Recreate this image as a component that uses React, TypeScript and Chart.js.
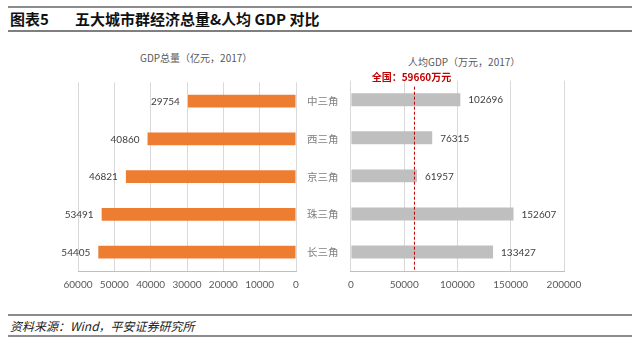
import React, { useEffect, useRef } from 'react';
import { Chart, registerables } from 'chart.js';

Chart.register(...registerables);

const categories = ['中三角', '西三角', '京三角', '珠三角', '长三角'];
const gdpTotal = [29754, 40860, 46821, 53491, 54405];
const gdpPerCapita = [102696, 76315, 61957, 152607, 133427];
const nationalAvg = 59660;
const nationalLabel = '全国：59660万元';
const leftTitle = 'GDP总量（亿元，2017）';
const rightTitle = '人均GDP（万元，2017）';
const leftMax = 60000;
const leftStep = 10000;
const rightMax = 200000;
const rightStep = 50000;

const FONT = 'Lato, "Noto Sans CJK SC", sans-serif';
const CJK = '"Noto Sans CJK SC", Lato, sans-serif';

const plainTick = (v: any) => String(v);

const valueLabels = {
  id: 'valueLabels',
  afterDatasetsDraw(chart: any, _args: any, opts: any) {
    const ctx = chart.ctx;
    const meta = chart.getDatasetMeta(0);
    const data = chart.data.datasets[0].data as number[];
    ctx.save();
    ctx.font = '10px ' + FONT;
    ctx.fillStyle = '#404040';
    ctx.textBaseline = 'middle';
    ctx.textAlign = opts.side === 'left' ? 'right' : 'left';
    meta.data.forEach((bar: any, i: number) => {
      const x = opts.side === 'left' ? bar.x - 8 : bar.x + 8;
      ctx.fillText(String(data[i]), x, bar.y + 0.5);
    });
    ctx.restore();
  },
};

const avgLine = {
  id: 'avgLine',
  afterDatasetsDraw(chart: any, _args: any, opts: any) {
    if (!opts || opts.value == null) return;
    const ctx = chart.ctx;
    const x = chart.scales.x.getPixelForValue(opts.value);
    const area = chart.chartArea;
    ctx.save();
    ctx.strokeStyle = '#C00000';
    ctx.lineWidth = 1;
    ctx.setLineDash([3, 2]);
    ctx.beginPath();
    ctx.moveTo(x, area.top + 6);
    ctx.lineTo(x, area.bottom);
    ctx.stroke();
    ctx.setLineDash([]);
    ctx.fillStyle = '#C00000';
    ctx.font = 'bold 10px ' + CJK;
    ctx.textAlign = 'center';
    ctx.textBaseline = 'middle';
    ctx.fillText(opts.label, x - 3, area.top - 3);
    ctx.restore();
  },
};

function LeftChart() {
  const ref = useRef<HTMLCanvasElement>(null);
  useEffect(() => {
    const chart = new Chart(ref.current!, {
      type: 'bar',
      data: {
        labels: categories,
        datasets: [
          {
            data: gdpTotal,
            backgroundColor: '#ED7D31',
            barPercentage: 0.34,
            categoryPercentage: 1,
          },
        ],
      },
      plugins: [valueLabels],
      options: {
        indexAxis: 'y',
        animation: false,
        responsive: false,
        maintainAspectRatio: false,
        layout: { padding: { left: 48, top: 15.7, right: 0, bottom: 0 } },
        plugins: {
          legend: { display: false },
          tooltip: { enabled: false },
          valueLabels: { side: 'left' },
        } as any,
        scales: {
          x: {
            reverse: true,
            min: 0,
            max: leftMax,
            ticks: {
              stepSize: leftStep,
              color: '#595959',
              font: { size: 10, family: FONT },
              padding: 8,
              maxRotation: 0,
              minRotation: 0,
              autoSkip: false,
              callback: plainTick,
            },
            grid: { color: '#D9D9D9', drawTicks: false },
            border: { color: '#BFBFBF' },
            afterFit: (s: any) => { s.height = 26; },
          },
          y: {
            position: 'right',
            grid: { display: false, drawTicks: false },
            border: { display: false },
            ticks: { color: '#808080', font: { size: 10.5, family: CJK }, padding: 11, crossAlign: 'near' },
            afterFit: (s: any) => { s.width = 54; },
          },
        },
      } as any,
    });
    return () => chart.destroy();
  }, []);
  return <canvas ref={ref} width={320} height={232} style={{ position: 'absolute', left: 30, top: 65, width: 320, height: 232 }} />;
}

function RightChart() {
  const ref = useRef<HTMLCanvasElement>(null);
  useEffect(() => {
    const chart = new Chart(ref.current!, {
      type: 'bar',
      data: {
        labels: categories,
        datasets: [
          {
            data: gdpPerCapita,
            backgroundColor: '#BFBFBF',
            barPercentage: 0.34,
            categoryPercentage: 1,
          },
        ],
      },
      plugins: [valueLabels, avgLine],
      options: {
        indexAxis: 'y',
        animation: false,
        responsive: false,
        maintainAspectRatio: false,
        layout: { padding: { left: 10.7, top: 15.7, right: 46, bottom: 0 } },
        plugins: {
          legend: { display: false },
          tooltip: { enabled: false },
          valueLabels: { side: 'right' },
          avgLine: { value: nationalAvg, label: nationalLabel },
        } as any,
        scales: {
          x: {
            min: 0,
            max: rightMax,
            ticks: {
              stepSize: rightStep,
              color: '#595959',
              font: { size: 10, family: FONT },
              padding: 8,
              maxRotation: 0,
              minRotation: 0,
              autoSkip: false,
              callback: plainTick,
            },
            grid: { color: '#D9D9D9', drawTicks: false },
            border: { color: '#BFBFBF' },
            afterFit: (s: any) => { s.height = 26; },
          },
          y: {
            display: false,
          },
        },
      } as any,
    });
    return () => chart.destroy();
  }, []);
  return <canvas ref={ref} width={270} height={232} style={{ position: 'absolute', left: 340, top: 65, width: 270, height: 232 }} />;
}

export default function App() {
  const line = (top: number, h: number, color: string) => (
    <div style={{ position: 'absolute', left: 8, width: 624, top, height: h, background: color }} />
  );
  return (
    <div style={{ position: 'fixed', left: 0, top: 0, width: 641, height: 341, background: '#fff', overflow: 'hidden', fontFamily: CJK }}>
      {line(6, 2, '#8c8c8c')}
      <div style={{ position: 'absolute', left: 10, top: 10, fontSize: 15, fontWeight: 'bold', color: '#111', lineHeight: '18px', whiteSpace: 'nowrap' }}>
        图表5
      </div>
      <div style={{ position: 'absolute', left: 75, top: 10, fontSize: 15, fontWeight: 'bold', color: '#111', lineHeight: '18px', whiteSpace: 'nowrap' }}>
        五大城市群经济总量&amp;人均 GDP 对比
      </div>
      {line(30, 1.5, '#7f7f7f')}
      <div style={{ position: 'absolute', left: 140, top: 51, width: 110, textAlign: 'center', fontSize: 10, color: '#595959', lineHeight: '14px', whiteSpace: 'nowrap' }}>
        {leftTitle}
      </div>
      <div style={{ position: 'absolute', left: 408, top: 55, width: 110, textAlign: 'center', fontSize: 10, color: '#595959', lineHeight: '14px', whiteSpace: 'nowrap' }}>
        {rightTitle}
      </div>
      <LeftChart />
      <RightChart />
      {line(314, 1.5, '#8c8c8c')}
      <div style={{ position: 'absolute', left: 10, top: 318, fontSize: 12, fontStyle: 'italic', color: '#222', lineHeight: '15px', whiteSpace: 'nowrap' }}>
        资料来源：Wind，平安证券研究所
      </div>
      {line(335, 1.5, '#8c8c8c')}
    </div>
  );
}
